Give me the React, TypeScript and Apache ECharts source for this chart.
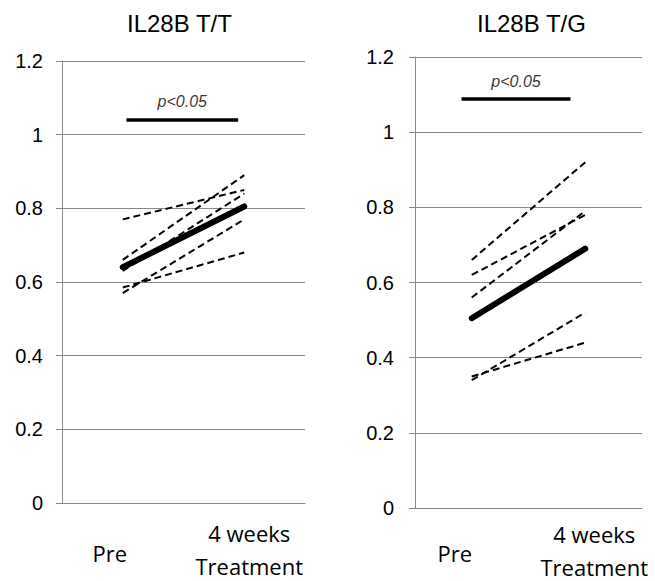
import React, { useEffect, useRef } from "react";
import * as echarts from "echarts";

const categories = ["Pre", "4 weeks\nTreatment"];
const panelTitles = ["IL28B T/T", "IL28B T/G"];
const yTicks = { min: 0, max: 1.2, interval: 0.2 };

// IL28B T/T individual patients (Pre, 4 weeks)
const ttPre = [0.77, 0.66, 0.63, 0.585, 0.57];
const ttPost = [0.85, 0.89, 0.84, 0.68, 0.77];
const ttMean = [0.64, 0.805];

// IL28B T/G individual patients (Pre, 4 weeks)
const tgPre = [0.66, 0.62, 0.56, 0.35, 0.34];
const tgPost = [0.92, 0.78, 0.79, 0.44, 0.52];
const tgMean = [0.505, 0.69];

// significance bars: [start, end] on a -0.5..1.5 scale, and height
const sigLabel = "p<0.05";
const ttSigX = [0.03, 0.95];
const ttSigY = 1.04;
const tgSigX = [-0.09, 0.87];
const tgSigY = 1.088;

const GRID_COLOR = "#8a8a8a";
const SANS = "'Liberation Sans', Arial, sans-serif";
const CAT_FONT = "'Open Sans', 'Noto Sans', sans-serif";

export default function App() {
  const ref = useRef<HTMLDivElement>(null);

  useEffect(() => {
    if (!ref.current) return;
    const chart = echarts.init(ref.current, undefined, { renderer: "svg" });

    const grids = [
      { left: 62, right: 350, top: 61, bottom: 78, outerBoundsMode: "none", containLabel: false },
      { left: 415, right: 13, top: 57, bottom: 73, outerBoundsMode: "none", containLabel: false },
    ];

    const catAxis = (gi: number, margin: number, preTop: number) => {
      const shiftPost = gi === 0 ? 10 : 18;
      const base = { fontFamily: CAT_FONT, fontSize: 22, color: "#000" };
      return {
        type: "category",
        gridIndex: gi,
        data: categories,
        boundaryGap: true,
        axisLine: { show: true, onZero: false, lineStyle: { color: GRID_COLOR, width: 1 } },
        axisTick: { show: false },
        splitLine: { show: false },
        axisLabel: {
          interval: 0,
          hideOverlap: false,
          margin,
          verticalAlign: "middle",
          color: "#000",
          fontFamily: CAT_FONT,
          fontSize: 22,
          lineHeight: 22,
          formatter: (v: string) => {
            if (v === categories[0]) return `{pre|${v}}`;
            const lines = v.split("\n");
            return lines
              .map((s, i) => (i < lines.length - 1 ? `{postA|${s}}` : `{postB|${s}}`))
              .join("\n");
          },
          rich: {
            pre: { ...base, lineHeight: 22, padding: [preTop, gi === 0 ? 26 : 34, 0, 0] },
            postA: { ...base, lineHeight: 43, padding: [0, 0, 0, shiftPost] },
            postB: { ...base, lineHeight: 22, padding: [0, 0, 0, shiftPost] },
          },
        },
      };
    };

    const valXAxis = (gi: number) => ({
      type: "value",
      gridIndex: gi,
      min: -0.5,
      max: 1.5,
      show: false,
    });

    const yAxis = (gi: number, margin: number) => ({
      type: "value",
      gridIndex: gi,
      min: yTicks.min,
      max: yTicks.max,
      interval: yTicks.interval,
      axisLine: { show: true, onZero: false, lineStyle: { color: GRID_COLOR, width: 1 } },
      axisTick: { show: true, length: 6, lineStyle: { color: GRID_COLOR, width: 1 } },
      splitLine: { show: true, lineStyle: { color: GRID_COLOR, width: 1 } },
      axisLabel: {
        margin,
        color: "#000",
        fontFamily: SANS,
        fontSize: 20,
      },
    });

    const series: any[] = [];
    const addPanel = (
      gi: number,
      pre: number[],
      post: number[],
      mean: number[],
      sigX: number[],
      sigY: number
    ) => {
      pre.forEach((p, i) => {
        series.push({
          type: "line",
          xAxisIndex: gi,
          yAxisIndex: gi,
          data: [p, post[i]],
          symbol: "none",
          silent: true,
          lineStyle: { color: "#000", width: 2, type: [7, 4] },
          z: 3,
        });
      });
      series.push({
        type: "line",
        xAxisIndex: gi,
        yAxisIndex: gi,
        data: mean,
        symbol: "none",
        silent: true,
        lineStyle: { color: "#000", width: 6, cap: "round" },
        z: 4,
      });
      series.push({
        type: "line",
        xAxisIndex: gi + 2,
        yAxisIndex: gi,
        data: [
          [sigX[0], sigY],
          [sigX[1], sigY],
        ],
        symbol: "none",
        silent: true,
        lineStyle: { color: "#000", width: 3.5 },
        z: 4,
      });
      series.push({
        type: "scatter",
        xAxisIndex: gi + 2,
        yAxisIndex: gi,
        data: [[(sigX[0] + sigX[1]) / 2, sigY]],
        symbolSize: 0,
        silent: true,
        label: {
          show: true,
          position: "top",
          distance: 10,
          formatter: sigLabel,
          color: "#000",
          fontFamily: SANS,
          fontStyle: "italic",
          fontSize: 16,
        },
      });
    };

    addPanel(0, ttPre, ttPost, ttMean, ttSigX, ttSigY);
    addPanel(1, tgPre, tgPost, tgMean, tgSigX, tgSigY);

    const titleStyle = { fontFamily: SANS, fontSize: 24, fontWeight: "normal", color: "#000" };

    chart.setOption({
      animation: false,
      backgroundColor: "#fff",
      title: [
        { text: panelTitles[0], left: 127, top: 11, padding: 0, textStyle: titleStyle },
        { text: panelTitles[1], left: 477, top: 11, padding: 0, textStyle: titleStyle },
      ],
      grid: grids,
      xAxis: [catAxis(0, 41, 18), catAxis(1, 37, 16), valXAxis(0), valXAxis(1)],
      yAxis: [yAxis(0, 19), yAxis(1, 21)],
      series,
    });

    return () => chart.dispose();
  }, []);

  return (
    <div
      ref={ref}
      style={{ position: "absolute", left: 0, top: 0, width: 655, height: 581, background: "#fff" }}
    />
  );
}
